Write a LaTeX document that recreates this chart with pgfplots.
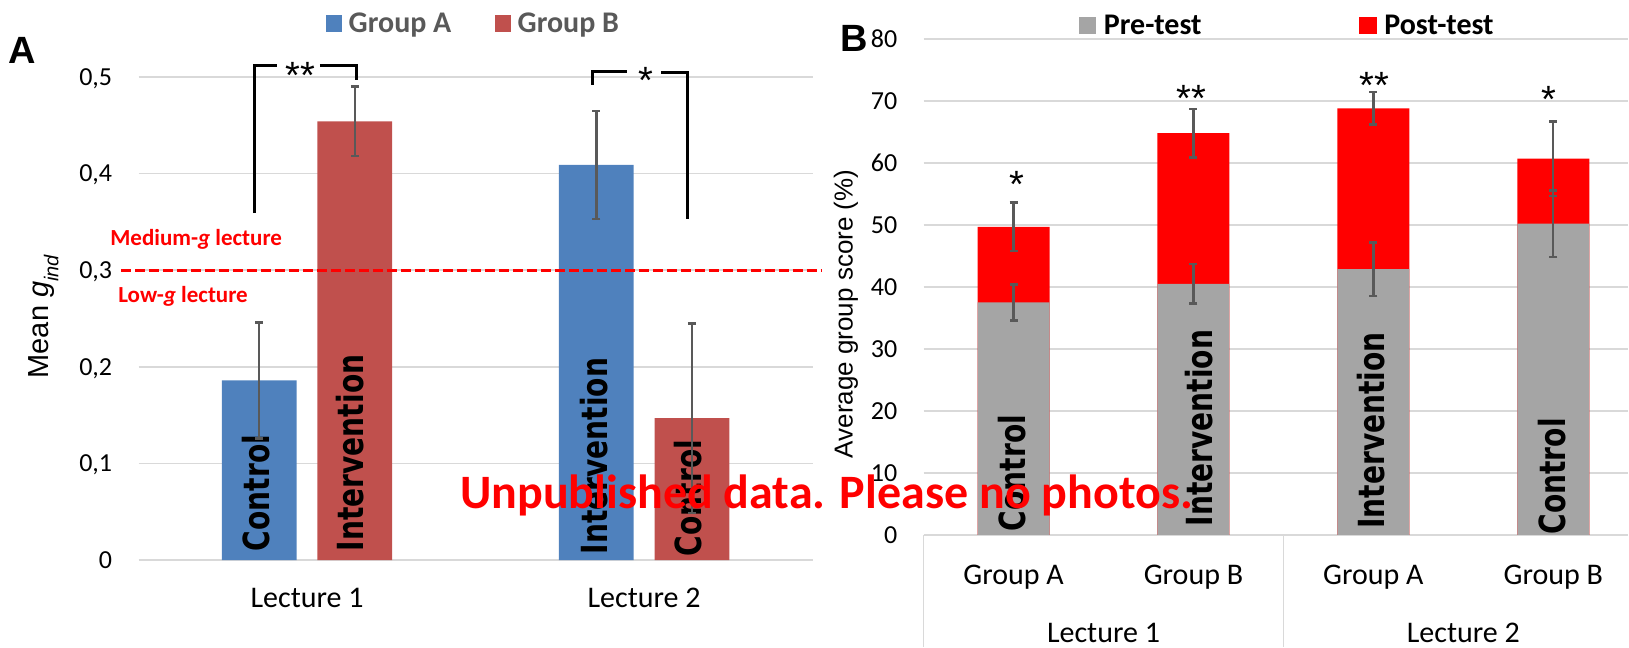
\documentclass[border=0pt]{standalone}
\usepackage{fontspec}
\setmainfont{Carlito}
\newfontfamily\arialf{Liberation Sans}
\newfontfamily\barf[FakeStretch=0.78]{DejaVu Sans}
\usepackage{pgfplots}
\pgfplotsset{compat=1.18}
\definecolor{barblue}{HTML}{4F81BD}
\definecolor{barred}{HTML}{C0504D}
\definecolor{pregray}{HTML}{A5A5A5}
\definecolor{postred}{HTML}{FF0000}
\definecolor{gridgray}{HTML}{D9D9D9}
\definecolor{errgray}{HTML}{595959}
\definecolor{leggray}{HTML}{595959}
\newcommand\fs[1]{\fontsize{#1}{#1}\selectfont}
\begin{document}
\begin{tikzpicture}
\pgfplotsset{
 common/.style={scale only axis, anchor=south west, clip=false,
   axis line style={draw=none}, major tick length=0pt,
   ymajorgrids, grid style={draw=gridgray, line width=0.75pt},
   /pgf/number format/assume math mode=true,
   yticklabel style={font=\fs{13}, anchor=east, inner sep=0pt, xshift=-13pt, text depth=0pt},
   xticklabel style={font=\fs{15}, anchor=base, inner sep=0pt},
   ybar},
 errs/.style={error bars/.cd, y dir=both, y explicit,
   error bar style={draw=errgray, line width=1.2pt},
   error mark options={rotate=90, draw=errgray, line width=1.2pt, mark size=2pt}},
}
% ---------------- Panel A ----------------
\begin{axis}[common, at={(69.3pt,43.35pt)}, width=337.2pt, height=241.67pt,
  xmin=-0.5, xmax=1.5, ymin=0, ymax=0.5,
  xtick={0,1}, xticklabels={Lecture 1, Lecture 2}, xticklabel style={yshift=-23.85pt},
  ytick={0,0.1,0.2,0.3,0.4,0.5},
  /pgf/number format/use comma, /pgf/number format/fixed, /pgf/number format/precision=1,
  bar width=37.4pt]
\addplot[fill=barblue, draw=none, bar shift=-23.9pt] coordinates {(0,0.186) (1,0.409)};
\addplot[fill=barred, draw=none, bar shift=23.9pt] coordinates {(0,0.454) (1,0.147)};
\node[rotate=90, anchor=west, inner sep=0pt, font=\barf\bfseries\fs{18}] at (axis cs:-0.1518,0.0089) {Control};
\node[rotate=90, anchor=west, inner sep=0pt, font=\barf\bfseries\fs{18}] at (axis cs:0.1278,0.0089) {Intervention};
\node[rotate=90, anchor=west, inner sep=0pt, font=\barf\bfseries\fs{18}] at (axis cs:0.852,0.0055) {Intervention};
\node[rotate=90, anchor=west, inner sep=0pt, font=\barf\bfseries\fs{18}] at (axis cs:1.1293,0.0037) {Control};
\addplot[draw=none, fill=none, bar shift=-23.9pt, errs] coordinates {(0,0.186) +- (0,0.06) (1,0.409) +- (0,0.056)};
\addplot[draw=none, fill=none, bar shift=23.9pt, errs] coordinates {(0,0.454) +- (0,0.036) (1,0.147) +- (0,0.098)};
\draw[postred, line width=1.5pt, dash pattern=on 5pt off 2pt] (axis cs:-0.552,0.3) -- (axis cs:1.524,0.3);
\end{axis}
% ---------------- Panel B ----------------
\begin{axis}[common, at={(462pt,56pt)}, width=352.5pt, height=248pt,
  xmin=-0.5, xmax=3.4167, ymin=0, ymax=80,
  xtick={0,1,2,3}, xticklabels={Group A,Group B,Group A,Group B}, xticklabel style={yshift=-25pt},
  ytick={0,10,20,30,40,50,60,70,80},
  bar width=36pt, bar shift=0pt]
\addplot[fill=postred, draw=none, errs] coordinates {(0,49.7) +- (0,3.9) (1,64.8) +- (0,3.9) (2,68.8) +- (0,2.6) (3,60.7) +- (0,6.0)};
\addplot[fill=pregray, draw=none, errs] coordinates {(0,37.5) +- (0,2.9) (1,40.5) +- (0,3.2) (2,42.85) +- (0,4.3) (3,50.2) +- (0,5.35)};
\draw[gridgray, line width=0.75pt] (axis cs:-0.5,0) -- ++(0pt,-56pt);
\draw[gridgray, line width=0.75pt] (axis cs:1.5,0) -- ++(0pt,-56pt);
\node[font=\fs{15}, anchor=base, inner sep=0pt, yshift=-54pt] at (axis cs:0.5,0) {Lecture 1};
\node[font=\fs{15}, anchor=base, inner sep=0pt, yshift=-54pt] at (axis cs:2.5,0) {Lecture 2};
\end{axis}
% ---------------- Annotations (pixel frame) ----------------
\begin{scope}[yshift=323.5pt, x=0.5pt, y=-0.5pt]
\path[use as bounding box] (0,0) rectangle (1629,647);
% panel A
\node[anchor=base west, inner sep=0pt, font=\arialf\bfseries\fs{19}] at (8,63.3) {A};
\fill[barblue] (326,15) rectangle (342,31.7);
\node[anchor=base west, inner sep=0pt, font=\bfseries\fs{15}, text=leggray] at (348.5,32.3) {Group A};
\fill[barred] (495,15) rectangle (511,31.7);
\node[anchor=base west, inner sep=0pt, font=\bfseries\fs{15}, text=leggray] at (517.5,32.3) {Group B};
\node[rotate=90, anchor=base, inner sep=0pt, font=\arialf\fs{14.5}] at (48.3,316.5) {Mean \textit{g}\raisebox{-5pt}{\fs{10}\textit{ind}}};
\draw[line width=1.5pt] (254.7,213.3) -- (254.7,65.3) -- (277.2,65.3);
\draw[line width=1.5pt] (320,65.3) -- (356.7,65.3) -- (356.7,80);
\draw[line width=1.5pt] (592.6,85) -- (592.6,71.7) -- (627.6,71.7);
\draw[line width=1.5pt] (661.6,73) -- (688.3,73) -- (688.3,219.3);
\node[anchor=north, inner sep=0pt, font=\arialf\fs{19}] at (300.2,61.7) {**};
\node[anchor=north, inner sep=0pt, font=\arialf\fs{19}] at (646.5,66.7) {*};
\node[anchor=base west, inner sep=0pt, font=\bfseries\fs{11.5}, text=postred] at (110,246) {Medium-\textit{g} lecture};
\node[anchor=base west, inner sep=0pt, font=\bfseries\fs{11.5}, text=postred] at (118,303) {Low-\textit{g} lecture};
% panel B
\node[anchor=base west, inner sep=0pt, font=\arialf\bfseries\fs{19}] at (840,51.7) {B};
\fill[pregray] (1079,16.7) rectangle (1096,34.3);
\node[anchor=base west, inner sep=0pt, font=\bfseries\fs{15}] at (1104,34.3) {Pre-test};
\fill[postred] (1360,16.7) rectangle (1377.5,34.3);
\node[anchor=base west, inner sep=0pt, font=\bfseries\fs{15}] at (1384.6,34.3) {Post-test};
\node[rotate=90, anchor=base, inner sep=0pt, font=\arialf\fs{13}] at (853,314) {Average group score (\%)};
\node[rotate=90, anchor=west, inner sep=0pt, font=\barf\bfseries\fs{18}] at (1013,531.7) {Control};
\node[rotate=90, anchor=west, inner sep=0pt, font=\barf\bfseries\fs{18}] at (1200,526.7) {Intervention};
\node[rotate=90, anchor=west, inner sep=0pt, font=\barf\bfseries\fs{18}] at (1371.7,529.3) {Intervention};
\node[rotate=90, anchor=west, inner sep=0pt, font=\barf\bfseries\fs{18}] at (1553,535) {Control};
\node[anchor=north, inner sep=0pt, font=\arialf\fs{19}] at (1017.4,170.7) {*};
\node[anchor=north, inner sep=0pt, font=\arialf\fs{19}] at (1192.3,85) {**};
\node[anchor=north, inner sep=0pt, font=\arialf\fs{19}] at (1374.8,71.7) {**};
\node[anchor=north, inner sep=0pt, font=\arialf\fs{19}] at (1549.5,86) {*};
% watermark
\node[anchor=base west, inner sep=0pt, font=\bfseries\fs{24}, text=postred] at (460,508.3) {Unpublished data. Please no photos.};
\end{scope}
\end{tikzpicture}
\end{document}
